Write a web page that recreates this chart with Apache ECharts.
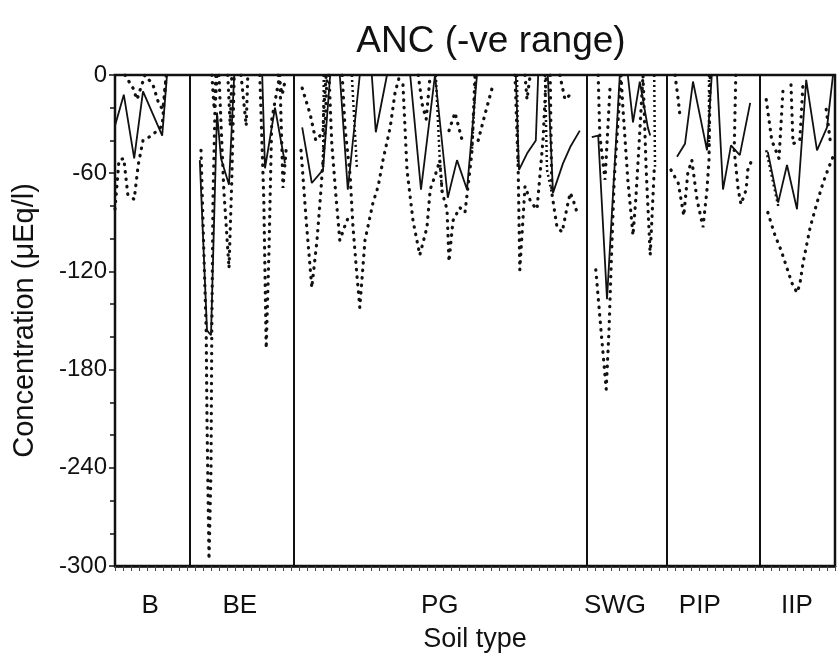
<!DOCTYPE html>
<html>
<head>
<meta charset="utf-8">
<script src="https://cdn.jsdelivr.net/npm/echarts@6/dist/echarts.min.js"></script>
<style>html,body{margin:0;padding:0;background:#fff}#c{width:840px;height:660px}</style>
</head>
<body>
<div id="c"></div>
<script>
// Soil-type groups (sample index positions along x)
const categories = ['B', 'BE', 'PG', 'SWG', 'PIP', 'IIP'];
const categoryLabelPos = [4.4, 15.6, 40.6, 62.5, 73.1, 85.25];
const groupBoundaries = [9.4, 22.4, 59, 69, 80.6];
const sampleCount = 90;
const yMin = -300, yMax = 0, yStep = 60;

// Median (solid) – [sample position, ANC µEq/l], null = break
const median = [
  [0,-31],[1.1,-12],[2.4,-51],[3.5,-10],[5.9,-37],[6.5,0], null,
  [10.6,-52],[11.5,-156],[12,-159],[12.75,-23],[13.25,-51],[14.25,-67],[14.9,0],[18.4,0],[18.75,-57],[20,-20],[21.25,-54], null,
  [23.4,-32],[24.6,-66],[26,-58],[26.9,0],[28.1,0],[29.1,-70],[30.6,0],[32.1,0],[32.6,-35],[34,0],[36.9,0],[38.25,-70],[40,0],
  [41.6,-75],[42.75,-52],[44,-70],[45.25,0],[50.1,0],[50.5,-58],[51.5,-48],[52.6,-40],[52.9,0],[54.1,0],[54.75,-72],[56,-54],[56.9,-44],[58.1,-34], null,
  [59.6,-38],[60.4,-37],[61.5,-137],[63.1,0],[64.1,0],[64.75,-29],[65.6,-4],[66.6,-32],[66.9,-37], null,
  [70.25,-50],[71.25,-42],[72.25,-4],[73.5,-34],[74,-46],[74.6,0],[75.25,0],[76,-70],[77,-43],[78.1,-49],[79.4,-17], null,
  [81.6,-47],[82.9,-78],[84,-55],[85.25,-82],[86.4,-3],[87.75,-46],[89,-32],[89.75,0]
];

// Lower percentile (dotted)
const lower = [
  [0,-82],[0.5,-52],[1.1,-51],[1.6,-73],[2.4,-76],[2.9,-55],[3.5,-40],[4.6,-37],[5.9,-31],[6.4,0], null,
  [10.75,-46],[11.1,-107],[11.4,-156],[11.5,-211],[11.75,-296],[12,-241],[12.1,-156],[12.25,-76],[12.5,-21],[12.75,0], null,
  [13,0],[13.6,-70],[14.25,-118],[14.6,-64],[14.9,0], null,
  [18.1,0],[18.6,-76],[18.9,-167],[19.25,-107],[19.6,-27],[20.6,0],[21,-69],[21.4,-45], null,
  [23.25,-46],[23.9,-89],[24.6,-130],[25.25,-101],[25.75,-70],[26.25,-34],[26.5,0], null,
  [28.4,0],[28.75,-32],[29.4,-62],[29.75,-93],[30.25,-123],[30.6,-142],[31.25,-101],[31.6,-93],[32.25,-78],[32.9,-68],[33.5,-52],[34.4,-32],[35,-11],[35.6,0], null,
  [36,-6],[36.5,-58],[37.25,-89],[38.1,-110],[39,-93],[39.4,-70],[40.25,-58],[40.6,-52],[40.9,-72],[41.5,-82],[41.75,-114],[42.25,-89],[43.1,-81],[43.75,-84],[44.6,-48],[45,0], null,
  [50,0],[50.4,-58],[50.5,-89],[50.6,-119],[51.25,-68],[52,-78],[52.75,-82],[53.5,-40],[53.9,0], null,
  [54.4,0],[54.6,-72],[55.25,-93],[55.9,-96],[56.5,-81],[56.9,-72],[57.25,-76],[57.75,-84], null,
  [60.1,-119],[60.75,-156],[61.4,-192],[61.75,-156],[62,-119],[62.4,-64],[62.9,-27],[63.25,0],[63.5,-21],[64.1,-64],[64.75,-98],[65.1,-76],[65.5,-43],[66,0],[66.4,-58],[66.9,-110],[67.4,-58], null,
  [69.5,-58],[70.4,-66],[71.1,-86],[71.6,-60],[72.1,-52],[72.75,-76],[73.5,-93],[74,-70],[74.25,-52],[74.4,0], null,
  [77.6,0],[77.4,-46],[77.9,-70],[78.25,-79],[78.9,-70],[79.1,-58],[79.6,-52], null,
  [81.6,-84],[82.5,-98],[83.25,-107],[84,-118],[84.6,-127],[85.25,-133],[85.6,-128],[86,-115],[86.9,-93],[87.75,-78],[88.5,-66],[89.1,-58],[89.75,-50]
];

// Upper percentile (dotted)
const upper = [
  [1.25,0],[2.25,-8],[2.75,-15],[3.75,0],[4.75,-6],[5.5,-18],[6,-21],[6.4,0], null,
  [12.1,0],[12.4,-21],[12.6,0], null, [14.1,0],[14.4,-31],[14.6,0], null, [15.75,0],[16.4,-31],[16.6,0], null,
  [20.4,0],[20.9,-12],[21.2,-5], null,
  [23.4,-8],[24.4,-24],[25.1,-40],[26,-35],[26.1,-21],[26.4,0], null,
  [26.75,0],[27.1,-42],[27.6,-73],[28.1,-101],[28.75,-92],[29.25,-86], null,
  [37.9,0],[38.4,-18],[38.9,-27],[39.4,0], null,
  [41.75,-34],[42.5,-23],[43.4,-40], null,
  [45.4,-40],[46.25,-24],[47.25,-6], null,
  [51.25,0],[51.5,-15],[51.9,0], null,
  [55.6,0],[56.25,-15],[56.9,-12], null,
  [60.4,0],[60.6,-37],[61.25,-64],[61.9,-6], null,
  [70,0],[70.4,-15],[70.6,-24], null,
  [81.4,-15],[82.1,-40],[83,-51],[83.5,-9], null, [84.5,-6],[84.75,-42],[85.6,-40],[86,-5], null, [88.9,-21],[89.4,-40]
];

// Quartile (tick-marked line)
const quartile = [
  [26.1,0],[26,-58], null,
  [29.6,0],[30.25,-58], null,
  [40.1,0],[40.6,-52],[40.9,-72], null,
  [44.6,-48],[45.1,0], null,
  [50.25,0],[50.4,-58], null,
  [53.75,0],[54,-58],[54.6,-72], null,
  [67.4,0],[67.5,-56], null,
  [74.25,0],[74.25,-46], null,
  [81.4,-46],[82.9,-80]
];

const FONT = 'Liberation Sans';
const toData = arr => arr.map(p => p ? p : ['-', '-']);
const dotted = { color: '#111', width: 3.2, type: [0.5, 7], cap: 'round' };
const sampleTicks = Array.from({ length: sampleCount + 1 }, (_, i) => i);

const chart = echarts.init(document.getElementById('c'), null, { renderer: 'canvas' });
chart.setOption({
  animation: false,
  backgroundColor: '#fff',
  title: {
    text: 'ANC (-ve range)',
    left: 486, top: 18, textAlign: 'center',
    textStyle: { fontFamily: FONT, fontSize: 37, fontWeight: 'normal', color: '#111' }
  },
  grid: { left: 115, right: 5, top: 75, bottom: 94, show: true, borderColor: '#111', borderWidth: 2.5 },
  xAxis: {
    type: 'value', min: 0, max: sampleCount, interval: 1, position: 'bottom',
    axisLine: { show: true, onZero: false, lineStyle: { color: '#111', width: 2.5 } },
    axisTick: { show: true, customValues: sampleTicks, length: 5, lineStyle: { color: '#444', width: 1 } },
    axisLabel: {
      customValues: categoryLabelPos, margin: 27,
      formatter: v => categories[categoryLabelPos.indexOf(v)] || '',
      fontFamily: FONT, fontSize: 26, color: '#111'
    },
    splitLine: { show: false },
    name: 'Soil type', nameLocation: 'middle', nameGap: 60,
    nameTextStyle: { fontFamily: FONT, fontSize: 27, color: '#111' }
  },
  yAxis: {
    type: 'value', min: yMin, max: yMax, interval: yStep,
    axisLine: { show: true, onZero: false, lineStyle: { color: '#111', width: 2 } },
    axisTick: { show: true, length: 6, lineStyle: { color: '#111', width: 1.5 } },
    minorTick: { show: true, splitNumber: 3, length: 5, lineStyle: { color: '#111', width: 1.5 } },
    axisLabel: { fontFamily: FONT, fontSize: 24, color: '#111', margin: 8 },
    splitLine: { show: false },
    name: 'Concentration (μEq/l)', nameLocation: 'middle', nameGap: 76,
    nameTextStyle: { fontFamily: FONT, fontSize: 29, color: '#111' }
  },
  series: [
    { name: 'upper', type: 'line', data: toData(upper), symbol: 'none', lineStyle: dotted, z: 2 },
    { name: 'lower', type: 'line', data: toData(lower), symbol: 'none', lineStyle: dotted, z: 2 },
    { name: 'quartile', type: 'line', data: toData(quartile), symbol: 'none',
      lineStyle: { color: '#111', width: 2.5, type: [2, 3] }, z: 2 },
    { name: 'median', type: 'line', data: toData(median), symbol: 'none',
      lineStyle: { color: '#111', width: 1.8 }, z: 3,
      markLine: {
        silent: true, symbol: 'none', label: { show: false },
        lineStyle: { color: '#111', width: 2, type: 'solid' },
        data: groupBoundaries.map(b => ({ xAxis: b }))
      }
    }
  ]
});
</script>
</body>
</html>
